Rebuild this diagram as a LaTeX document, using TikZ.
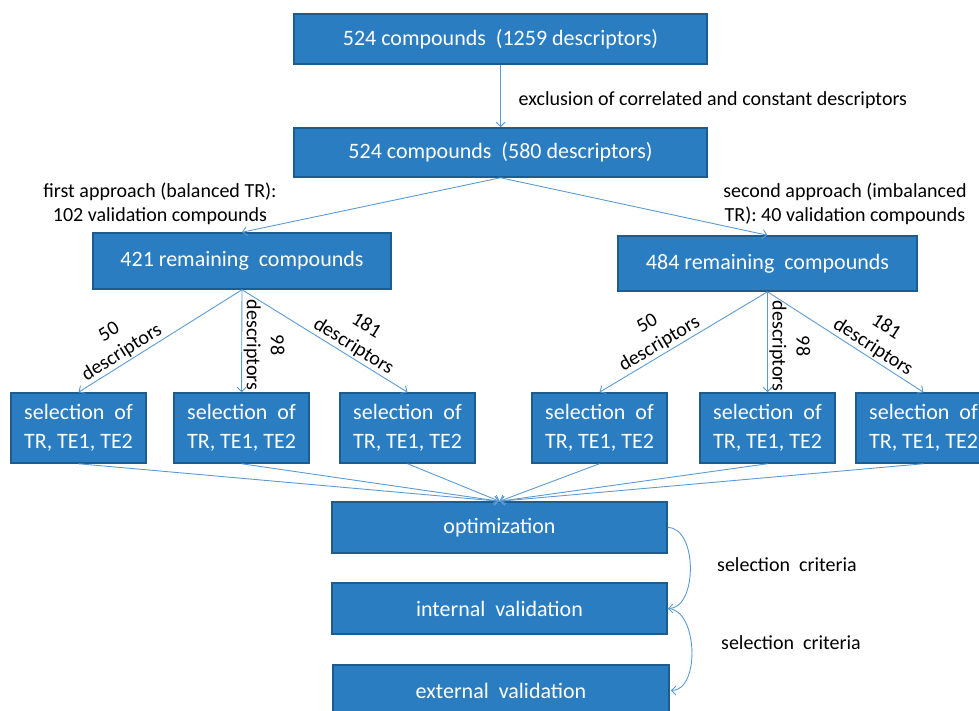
\documentclass[tikz,border=0pt]{standalone}
\usepackage{fontspec}
\setmainfont{Carlito}
\usetikzlibrary{arrows.meta}
\definecolor{boxfill}{HTML}{2A7DC0}
\definecolor{boxline}{HTML}{1F5C8E}
\definecolor{arrowc}{HTML}{5B9BD5}
\begin{document}
\begin{tikzpicture}[x=1pt,y=-1pt,
  box/.style={draw=boxline, line width=1.5pt, fill=boxfill, text=white, inner sep=0pt,
    font=\fontsize{22}{29}\selectfont, align=center},
  selbox/.style={box, minimum width=135pt, minimum height=70pt},
  lbl/.style={font=\fontsize{20}{24}\selectfont, text=black, align=center, inner sep=1.5pt},
  conn/.style={draw=arrowc, line width=0.9pt, -{Straight Barb[length=4.5pt,width=9pt]}}
]
\useasboundingbox (0,0) rectangle (979,711);
\clip (0,0) rectangle (979,711);

\node[box, minimum width=413pt, minimum height=50pt] (top) at (500.5,39) {524 compounds\ \ (1259 descriptors)};
\node[box, minimum width=413pt, minimum height=49pt] (second) at (500.5,152.5) {524 compounds\ \ (580 descriptors)};
\node[box, minimum width=298pt, minimum height=56pt] (left) at (242,261) {421 remaining\ \ compounds};
\node[box, minimum width=299pt, minimum height=55pt] (right) at (767.5,263.5) {484 remaining\ \ compounds};

\node[selbox] (s1) at (78.5,428) {selection\ \ of\\TR, TE1, TE2};
\node[selbox] (s2) at (241.5,428) {selection\ \ of\\TR, TE1, TE2};
\node[selbox] (s3) at (407.5,428) {selection\ \ of\\TR, TE1, TE2};
\node[selbox] (s4) at (599.5,428) {selection\ \ of\\TR, TE1, TE2};
\node[selbox] (s5) at (767.5,428) {selection\ \ of\\TR, TE1, TE2};
\node[selbox] (s6) at (923.5,428) {selection\ \ of\\TR, TE1, TE2};

\node[box, minimum width=335pt, minimum height=51pt] (opt) at (499.5,527.5) {optimization};
\node[box, minimum width=335pt, minimum height=51pt] (int) at (499.5,608.5) {internal\ \ validation};
\node[box, minimum width=336pt, minimum height=51pt] (ext) at (501,690.5) {external\ \ validation};

% text labels
\node[lbl, anchor=west] (excl) at (517,100) {exclusion of correlated and constant descriptors};
\node[lbl] (first) at (160,204) {first approach (balanced TR):\\102 validation compounds};
\node[lbl] (secondlbl) at (845,204) {second approach (imbalanced\\TR): 40 validation compounds};
\node[lbl] (crit1) at (787,565) {selection\ \ criteria};
\node[lbl] (crit2) at (791,643) {selection\ \ criteria};

% connectors
\draw[conn] (top.south) -- (second.north);
\draw[conn] (second.south) -- (left.north);
\draw[conn] (second.south) -- (right.north);

\draw[conn] (left.south) -- node[lbl, sloped, anchor=south, pos=0.70] {50\\descriptors} (s1.north);
\draw[conn] (left.south) -- node[lbl, rotate=-90, anchor=south, pos=0.54] {98\\descriptors} (s2.north);
\draw[conn] (left.south) -- node[lbl, sloped, anchor=south, pos=0.64] {181\\descriptors} (s3.north);

\draw[conn] (right.south) -- node[lbl, sloped, anchor=south, pos=0.61] {50\\descriptors} (s4.north);
\draw[conn] (right.south) -- node[lbl, rotate=-90, anchor=south, pos=0.54] {98\\descriptors} (s5.north);
\draw[conn] (right.south) -- node[lbl, sloped, anchor=south, pos=0.64] {181\\descriptors} (s6.north);

\foreach \s in {s1,s2,s3,s4,s5,s6}
  \draw[conn] (\s.south) -- (opt.north);

\draw[conn] (opt.east) .. controls +(30,0) and +(30,0) .. (int.east);
\draw[conn] (int.east) .. controls +(30,0) and +(30,0) .. ([xshift=1pt]ext.east);
\end{tikzpicture}
\end{document}
